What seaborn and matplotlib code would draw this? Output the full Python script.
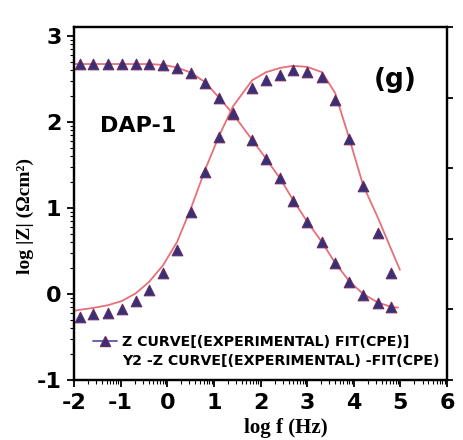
import matplotlib
matplotlib.use("Agg")
import matplotlib.pyplot as plt
from matplotlib.lines import Line2D
from matplotlib.ticker import FixedLocator
import numpy as np
import seaborn as sns

# Bode data for DAP-1: measured points and CPE equivalent-circuit fit
log_f = [-1.87, -1.59, -1.27, -0.97, -0.67, -0.39, -0.09, 0.21, 0.51, 0.81, 1.11, 1.41,
         1.82, 2.12, 2.42, 2.70, 3.00, 3.32, 3.60, 3.90, 4.20, 4.52, 4.80]
log_z = [2.67, 2.67, 2.67, 2.67, 2.67, 2.67, 2.66, 2.62, 2.57, 2.45, 2.28, 2.09,
         1.79, 1.57, 1.35, 1.08, 0.84, 0.60, 0.36, 0.14, -0.01, -0.11, -0.15]
phase = [17.8, 18.7, 19.0, 20.1, 22.4, 25.5, 30.3, 36.8, 47.6, 58.9, 68.8, 75.6,
         82.7, 85.0, 86.5, 87.8, 87.3, 85.8, 79.3, 68.4, 55.0, 41.6, 30.3]

fit_z_f = [-2.00, -1.87, -1.59, -1.27, -0.97, -0.67, -0.39, -0.09, 0.21, 0.51, 0.81, 1.11,
           1.41, 1.82, 2.12, 2.42, 2.70, 3.00, 3.32, 3.60, 3.90, 4.20, 4.52, 4.80, 4.95]
fit_z = [2.67, 2.67, 2.67, 2.67, 2.67, 2.67, 2.67, 2.66, 2.63, 2.57, 2.46, 2.28,
         2.09, 1.79, 1.57, 1.34, 1.09, 0.84, 0.60, 0.36, 0.15, 0.00, -0.10, -0.15, -0.16]
fit_ph_f = [-2.00, -1.87, -1.59, -1.27, -0.97, -0.67, -0.39, -0.09, 0.21, 0.51, 0.81, 1.11,
            1.41, 1.82, 2.12, 2.42, 2.70, 3.00, 3.32, 3.60, 3.90, 4.20, 4.52, 4.80, 4.99]
fit_ph = [19.6, 19.9, 20.4, 21.2, 22.4, 24.6, 27.8, 32.5, 39.1, 48.7, 59.5, 69.1,
          77.5, 84.9, 87.2, 88.4, 89.0, 88.7, 87.2, 81.3, 68.6, 55.2, 45.9, 37.1, 31.2]

x_ticks = [-2, -1, 0, 1, 2, 3, 4, 5, 6]
y_ticks = [-1, 0, 1, 2, 3]
y2_ticks = [0, 20, 40, 60, 80, 100]
legend_labels = ["Z CURVE[(EXPERIMENTAL) FIT(CPE)]", "Y2 -Z CURVE[(EXPERIMENTAL) -FIT(CPE)"]

FIT = "#e5707a"
MARK = "#35307a"
EDGE = "#6a2a5c"

sns.set_style("ticks")
plt.rcParams["font.family"] = ["DejaVu Sans"]
plt.rcParams["font.weight"] = "bold"
plt.rcParams["axes.unicode_minus"] = False
plt.rcParams["text.color"] = "black"
plt.rcParams["xtick.color"] = "black"
plt.rcParams["ytick.color"] = "black"
plt.rcParams["axes.edgecolor"] = "black"

fig = plt.figure(figsize=(4.63, 4.40), dpi=100)
ax = fig.add_axes([74 / 463, 1 - 380 / 440, 373 / 463, 353 / 440])
ax2 = ax.twinx()

sns.lineplot(x=fit_z_f, y=fit_z, ax=ax, color=FIT, linewidth=1.3, sort=False, zorder=2)
sns.scatterplot(x=log_f, y=log_z, ax=ax, marker="^", s=58, color=MARK,
                edgecolor=EDGE, linewidth=0.8, zorder=3)
sns.lineplot(x=fit_ph_f, y=fit_ph, ax=ax2, color=FIT, linewidth=1.3, sort=False, zorder=2)
sns.scatterplot(x=log_f, y=phase, ax=ax2, marker="^", s=58, color=MARK,
                edgecolor=EDGE, linewidth=0.8, zorder=3)

ax.set_xlim(-2, 6)
ax.set_ylim(-1, 3.1)
ax2.set_ylim(0, 100)
ax.set_xticks(x_ticks)
ax.set_yticks(y_ticks)
ax2.set_yticks(y2_ticks)

# decade-style minor ticks on both log axes
xminor = [i + np.log10(k) for i in range(-2, 6) for k in range(2, 10)]
yminor = [i + np.log10(k) for i in range(-1, 3) for k in range(2, 10)]
ax.xaxis.set_minor_locator(FixedLocator(xminor))
ax.yaxis.set_minor_locator(FixedLocator(yminor))

ax.tick_params(which="major", direction="out", length=5, width=1.3, labelsize=16, pad=4,
               top=False, right=False, colors="black")
ax.tick_params(which="minor", direction="out", length=3, width=0.8, top=False, right=False,
               colors="black")
ax2.tick_params(which="major", direction="out", length=4, width=1.3, labelright=False,
                colors="black")
for a in (ax, ax2):
    for s in a.spines.values():
        s.set_linewidth(1.6)
        s.set_color("black")
ax.set_xlabel("")
ax.set_ylabel("")
ax2.set_ylabel("")

ax.text(0.172, 0.72, "DAP-1", transform=ax.transAxes, ha="center", va="center",
        fontsize=16, fontweight="bold", color="black")
ax.text(0.861, 0.85, "(g)", transform=ax.transAxes, ha="center", va="center",
        fontsize=19, fontweight="bold", color="black")

fig.text(25 / 463, 1 - 216 / 440, "log |Z| (Ωcm²)", rotation=90, ha="center", va="center",
         family="Liberation Serif", fontweight="bold", fontsize=14, color="black")
fig.text(286 / 463, 1 - 428 / 440, "log f (Hz)", ha="center", va="center",
         family="Liberation Serif", fontweight="bold", fontsize=15, color="black")

handles = [Line2D([], [], color="#5a58a8", linewidth=1.3, marker="^", markersize=7.5,
                  markerfacecolor=MARK, markeredgecolor=EDGE),
           Line2D([], [], linestyle="none", marker="none")]
leg = ax.legend(handles, legend_labels, loc="lower left", bbox_to_anchor=(0.05, 0.035),
                frameon=False, borderpad=0, borderaxespad=0, handlelength=1.7,
                handletextpad=0.4, labelspacing=0.35, numpoints=1,
                prop={"family": "DejaVu Sans", "weight": "bold", "size": 10.2})
for t in leg.get_texts():
    t.set_color("black")

fig.savefig("out.png", dpi=100)
